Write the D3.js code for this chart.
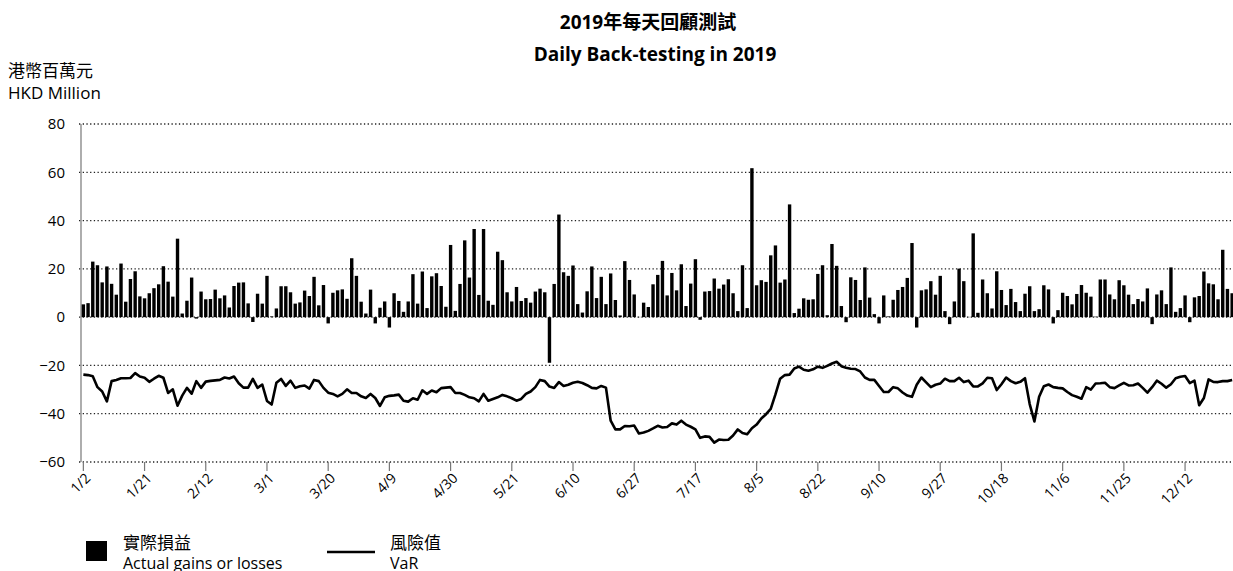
<!DOCTYPE html>
<html>
<head>
<meta charset="utf-8">
<script src="https://cdn.jsdelivr.net/npm/d3@7"></script>
<style>
  body { margin: 0; background: #fff; }
  svg { display: block; font-family: "Open Sans", "Noto Sans CJK TC", sans-serif; }
</style>
</head>
<body>
<div id="chart"></div>
<script>
// daily actual gains or losses (HKD million), one per trading day of 2019
var gains = [
  5.3, 5.8, 23, 21.5, 14.4, 21, 13.8, 9.3, 22.2, 6.4, 15.8, 19, 8.6, 7.8, 9.9, 12, 13.6, 21.1, 14.7, 8.5,
  32.5, 1.5, 6.8, 16.4, -0.6, 10.6, 7.4, 7.5, 11.4, 7.8, 9, 4, 12.9, 14.3, 14.4, 5.7, -2, 9.7, 5.6, 17.1, 0.3,
  3.6, 12.8, 12.8, 10.3, 5.6, 6.1, 11, 8.75, 16.7, 4.9, 13.3, -2.6, 10.1, 11.1, 11.5, 7.6, 24.4, 17.1, 6.4, 1.5, 11.4,
  -2.6, 3.9, 6.5, -4.3, 9.9, 6.7, 2.2, 6.5, 17.8, 5.6, 18.9, 3.75, 16.9, 18.2, 12.9, 4.3, 29.9, 2.6, 13.75, 31.8,
  16.4, 36.5, 9.2, 36.5, 6.8, 5.1, 27.1, 23.6, 10.3, 6.5, 12.5, 6.7, 7.9, 6, 10.6, 11.8, 10.3, -18.9, 13.75, 42.5, 18.6,
  17.1, 21.4, 5.4, 1.9, 10.7, 21, 7.9, 16.7, 5.4, 18.1, 7.1, 0.7, 23.2, 15.4, 9.4, 0.1, 6, 4.2, 13.6, 17.5,
  23.3, 9, 18.3, 11.1, 21.9, 4.6, 13.9, 24, -1.1, 10.6, 10.8, 16, 11.8, 13.5, 15.7, 9.9, 2.5, 21.5, 3.75, 61.7, 13.2,
  15.3, 14.6, 25.6, 29.7, 14.3, 15.6, 46.7, 1.7, 3.5, 7.8, 7.2, 7.4, 17.9, 21.5, 0.8, 30.3, 21.25, 4.6, -2.1, 16.5, 15.4,
  7.1, 20.6, 8.1, 1.25, -2.6, 9, 0.3, 7.2, 11.25, 12.5, 16.25, 30.7, -4.3, 11.1, 11.5, 14.9, 9.3, 17.1, 2.5, -2.9,
  6.5, 20.1, 14.9, 0.1, 34.7, 1.8, 15.6, 9.9, 3.6, 19, 11.25, 5, 11.7, 6.25, 2.5, 9.7, 12.8, 2.5, 3.3, 13.2, 11.5,
  -2.6, 2.9, 10.1, 8.75, 5.3, 9.6, 13.3, 10.1, 8.5, 0.2, 15.6, 15.6, 9.4, 7.4, 15.3, 13.2, 9.3, 5.4, 7.5, 6.5,
  11.9, -2.9, 9.4, 11.1, 5.4, 20.6, 2.2, 3.75, 9, -2.1, 8.2, 8.75, 18.9, 14, 13.6, 7.4, 27.9, 11.7, 9.9
];

// daily VaR (HKD million)
var varValues = [
  -23.8, -24, -24.5, -29, -30.8, -34.9, -26.5, -26, -25.3, -25.3, -25.2, -23.2, -24.6, -25.1, -26.8, -25.5, -24.3, -25.1, -31.4, -29.9,
  -36.7, -32.5, -29.3, -31.7, -26.5, -29.3, -26.7, -26.4, -26.2, -26, -25, -25.4, -24.6, -27.4, -29.2, -29.2, -25.6, -29.3, -27.9, -34.7, -36.2,
  -27.2, -25.6, -28.5, -26.3, -29.3, -28.6, -28.3, -29.6, -26, -26.5, -29.3, -31.3, -31.8, -32.8, -31.8, -29.9, -31.4, -31.4, -32.8, -33.5, -31.8,
  -33.5, -36.8, -33.2, -32.6, -32.4, -32.1, -34.6, -35, -33.6, -34.2, -30.3, -31.8, -30.4, -31.1, -29.4, -29.2, -29, -31.4, -31.4, -32.2,
  -33.2, -33.6, -34.9, -31.8, -34.6, -33.9, -33.2, -32.2, -32.8, -33.6, -34.6, -33.9, -31.8, -30.8, -29, -26, -26.5, -28.75, -29.3, -26.9, -28.5,
  -28, -27.2, -26.8, -27.3, -28.2, -29.3, -29.5, -28.5, -29.2, -42.9, -46.5, -46.5, -45.1, -45.2, -44.9, -48.2, -47.8, -47.1, -46.1, -45,
  -45.7, -45.5, -44, -44.5, -42.9, -44.5, -45.4, -46.5, -50, -49.4, -49.6, -52, -50.7, -50.9, -50.8, -49, -46.5, -48, -48.5, -46, -44.5,
  -42, -40.2, -38, -32, -25.5, -24, -23.8, -21.3, -20.5, -21.8, -22.2, -21.6, -20.5, -21, -20.2, -19.2, -18.5, -20.3, -21, -21.4, -21.5,
  -22.5, -25, -26, -26, -28.5, -31, -31, -29, -29.5, -31.2, -32.5, -33, -28, -25, -27, -29, -28, -27.5, -25.5, -26.5,
  -26.5, -25.1, -26.9, -26.3, -28.7, -28.7, -27.4, -25.1, -25.3, -30.2, -27.8, -25, -26.5, -27.4, -26.8, -25.3, -36, -43.2, -33, -28.6, -27.9,
  -29, -29.3, -29.5, -31, -32.3, -33, -33.8, -29, -30, -27.5, -27.4, -27.2, -29, -29.4, -28.3, -27.2, -28.3, -28.2, -27.5, -29.3,
  -31.3, -29, -26.3, -27.6, -29.2, -27.8, -25.3, -24.7, -24.4, -27.3, -26.3, -36.5, -33.5, -25.8, -26.8, -26.9, -26.5, -26.5, -26
];

// labelled trading days on the x axis
var tickLabels = ['1/2', '1/21', '2/12', '3/1', '3/20', '4/9', '4/30', '5/21', '6/10', '6/27',
                  '7/17', '8/5', '8/22', '9/10', '9/27', '10/18', '11/6', '11/25', '12/12'];
var tickIndex = [0, 13, 26, 39, 52, 65, 78, 91, 104, 117, 130, 143, 156, 169, 182, 195, 208, 221, 234];
var yTicks = [80, 60, 40, 20, 0, -20, -40, -60];

(function drawChart() {
  var width = 1233, height = 571;
  var plotLeft = 81, plotRight = 1234.5, plotTop = 124, plotBottom = 462;

  var svg = d3.select('#chart').append('svg')
    .attr('width', width)
    .attr('height', height);

  svg.append('rect').attr('width', width).attr('height', height).attr('fill', '#fff');

  var x = d3.scaleBand()
    .domain(d3.range(gains.length))
    .range([plotLeft, plotRight])
    .paddingInner(0.28)
    .paddingOuter(0.14);

  var y = d3.scaleLinear()
    .domain([-60, 80])
    .range([plotBottom, plotTop]);

  // title
  svg.append('text')
    .attr('x', 648).attr('y', 29)
    .attr('text-anchor', 'middle')
    .attr('font-size', 19).attr('font-weight', 'bold')
    .text('2019年每天回顧測試');
  svg.append('text')
    .attr('x', 655).attr('y', 61)
    .attr('text-anchor', 'middle')
    .attr('font-size', 19).attr('font-weight', 'bold')
    .text('Daily Back-testing in 2019');

  // unit label
  svg.append('text').attr('x', 8).attr('y', 77).attr('font-size', 17).text('港幣百萬元');
  svg.append('text').attr('x', 8).attr('y', 99).attr('font-size', 17).text('HKD Million');

  // y labels
  var yAxis = svg.append('g')
    .attr('transform', 'translate(' + plotLeft + ',0)')
    .call(d3.axisLeft(y).tickValues(yTicks).tickSize(0).tickPadding(16));
  yAxis.select('.domain').remove();
  yAxis.selectAll('text').attr('font-size', 15).attr('fill', '#000').attr('font-family', 'Open Sans');

  // dotted grid lines
  svg.append('g').selectAll('line')
    .data(yTicks)
    .enter()
    .append('line')
    .attr('x1', plotLeft - 2).attr('x2', width)
    .attr('y1', function (d) { return y(d); })
    .attr('y2', function (d) { return y(d); })
    .attr('stroke', '#222')
    .attr('stroke-width', 1.3)
    .attr('stroke-dasharray', '1.3,2.4');

  // y axis line
  svg.append('line')
    .attr('x1', plotLeft).attr('x2', plotLeft)
    .attr('y1', plotTop).attr('y2', plotBottom)
    .attr('stroke', '#777').attr('stroke-width', 1.2);

  // bars
  svg.append('g').selectAll('rect')
    .data(gains)
    .enter()
    .append('rect')
    .attr('x', function (d, i) { return x(i); })
    .attr('width', x.bandwidth())
    .attr('y', function (d) { return y(Math.max(0, d)); })
    .attr('height', function (d) { return Math.abs(y(d) - y(0)); })
    .attr('fill', '#000');

  // VaR line
  var line = d3.line()
    .x(function (d, i) { return x(i) + x.bandwidth() / 2; })
    .y(function (d) { return y(d); });
  svg.append('path')
    .datum(varValues)
    .attr('d', line)
    .attr('fill', 'none')
    .attr('stroke', '#000')
    .attr('stroke-width', 2.6)
    .attr('stroke-linejoin', 'round');

  // x ticks and labels
  var xTick = svg.append('g').selectAll('g')
    .data(tickIndex)
    .enter()
    .append('g')
    .attr('transform', function (d) { return 'translate(' + (x(d) + x.bandwidth() / 2) + ',' + plotBottom + ')'; });
  xTick.append('line').attr('y1', 0).attr('y2', 9).attr('stroke', '#777').attr('stroke-width', 1.2);
  xTick.append('text')
    .attr('transform', 'translate(8,17) rotate(-45)')
    .attr('text-anchor', 'end')
    .attr('font-size', 14)
    .text(function (d, i) { return tickLabels[i]; });

  // legend
  svg.append('rect').attr('x', 86).attr('y', 541).attr('width', 21).attr('height', 20).attr('fill', '#000');
  svg.append('text').attr('x', 123).attr('y', 549).attr('font-size', 17).text('實際損益');
  svg.append('text').attr('x', 123).attr('y', 569).attr('font-size', 16).text('Actual gains or losses');
  svg.append('line').attr('x1', 327).attr('x2', 375).attr('y1', 552).attr('y2', 552)
    .attr('stroke', '#000').attr('stroke-width', 2.6);
  svg.append('text').attr('x', 390).attr('y', 549).attr('font-size', 17).text('風險值');
  svg.append('text').attr('x', 390).attr('y', 569).attr('font-size', 16).text('VaR');
})();
</script>
</body>
</html>
